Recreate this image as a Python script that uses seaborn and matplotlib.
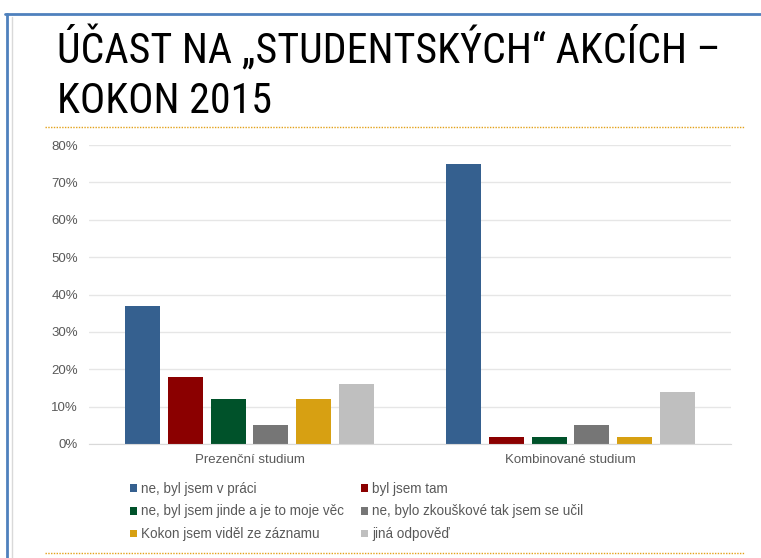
import pandas as pd
import seaborn as sns
import matplotlib.pyplot as plt
from matplotlib import font_manager
from matplotlib.lines import Line2D
from matplotlib.patches import Patch
from matplotlib.ticker import PercentFormatter

studium = ["Prezenční studium", "Kombinované studium"]
odpovedi = [
    "ne, byl jsem v práci",
    "byl jsem tam",
    "ne, byl jsem jinde a je to moje věc",
    "ne, bylo zkouškové tak jsem se učil",
    "Kokon jsem viděl ze záznamu",
    "jiná odpověď",
]
prezencni = [0.37, 0.18, 0.12, 0.05, 0.12, 0.16]
kombinovane = [0.75, 0.02, 0.02, 0.05, 0.02, 0.14]
barvy = ["#35608F", "#8B0000", "#00522A", "#767676", "#D7A012", "#BFBFBF"]

nadpis = ["ÚČAST NA „STUDENTSKÝCH“ AKCÍCH –", "KOKON 2015"]

rows = []
for odp, p, k in zip(odpovedi, prezencni, kombinovane):
    rows.append((studium[0], odp, p))
    rows.append((studium[1], odp, k))
df = pd.DataFrame(rows, columns=["Studium", "Odpoved", "Podil"])

sns.set_style("white")
plt.rcParams['font.family'] = ['Liberation Sans', 'DejaVu Sans']

W, H = 761, 558
fig = plt.figure(figsize=(W / 100, H / 100), dpi=100)
ax = fig.add_axes([89 / W, 1 - 444 / H, 642 / W, 299 / H])

sns.barplot(
    data=df, x="Studium", y="Podil", hue="Odpoved",
    order=studium, hue_order=odpovedi, palette=barvy,
    width=0.8, gap=0.18, ax=ax, legend=False,
    edgecolor="none", saturation=1,
)

ax.set_ylim(0, 0.8)
ax.set_yticks([i / 10 for i in range(9)])
ax.yaxis.set_major_formatter(PercentFormatter(1.0, decimals=0))
ax.grid(axis="y", color="#E6E6E6", linewidth=1)
ax.set_axisbelow(True)
for s in ax.spines.values():
    s.set_visible(False)
ax.spines["bottom"].set_visible(True)
ax.spines["bottom"].set_color("#D9D9D9")
ax.tick_params(axis="both", length=0, colors="#595959", labelsize=9.5)
ax.tick_params(axis="y", pad=8)
ax.tick_params(axis="x", pad=7.5)
ax.set_xlabel("")
ax.set_ylabel("")

# legenda po řádcích (2 sloupce)
handles = [Patch(facecolor=c, edgecolor="none") for c in barvy]
poradi = [0, 2, 4, 1, 3, 5]
leg = fig.legend(
    [handles[i] for i in poradi], [odpovedi[i] for i in poradi],
    ncol=2, loc="upper left", bbox_to_anchor=(0.171, 0.137),
    frameon=False, fontsize=9.75, handlelength=0.5, handleheight=0.5,
    handletextpad=0.3, columnspacing=1.3, labelspacing=0.66,
    borderaxespad=0, borderpad=0,
)
for t in leg.get_texts():
    t.set_color("#595959")

# nadpis - úzké písmo, pokud je k dispozici; velikost podle šířky
dostupne = {f.name for f in font_manager.fontManager.ttflist}
rodina = next((f for f in ["Liberation Sans Narrow", "Arial Narrow", "Roboto Condensed",
                           "Open Sans Condensed"] if f in dostupne), "Liberation Sans")
t1 = fig.text(57 / W, 1 - 63 / H, nadpis[0], fontsize=29, family=[rodina, 'DejaVu Sans'],
              va="baseline", ha="left", color="black")
t2 = fig.text(57 / W, 1 - 113 / H, nadpis[1], fontsize=29, family=[rodina, 'DejaVu Sans'],
              va="baseline", ha="left", color="black")
r = fig.canvas.get_renderer()
sirka = t1.get_window_extent(r).width
velikost = min(29 * 663 / sirka, 31)
t1.set_fontsize(velikost)
t2.set_fontsize(velikost)

# rámeček a oddělovače
fig.add_artist(Line2D([0.006, 1.0], [1 - 14 / H] * 2, color="#4F81BD", lw=2))
fig.add_artist(Line2D([0.009, 0.009], [0.0, 1 - 14 / H], color="#4F81BD", lw=2))
fig.add_artist(Line2D([0.016, 0.016], [0.0, 0.97], color="#D9D9D9", lw=1))
fig.add_artist(Line2D([45 / W, 745 / W], [1 - 127 / H] * 2, color="#E3A21A", lw=1, ls=(0, (1, 1))))
fig.add_artist(Line2D([45 / W, 745 / W], [1 - 553 / H] * 2, color="#E3A21A", lw=1, ls=(0, (1, 1))))

fig.savefig("out.png", dpi=100)
